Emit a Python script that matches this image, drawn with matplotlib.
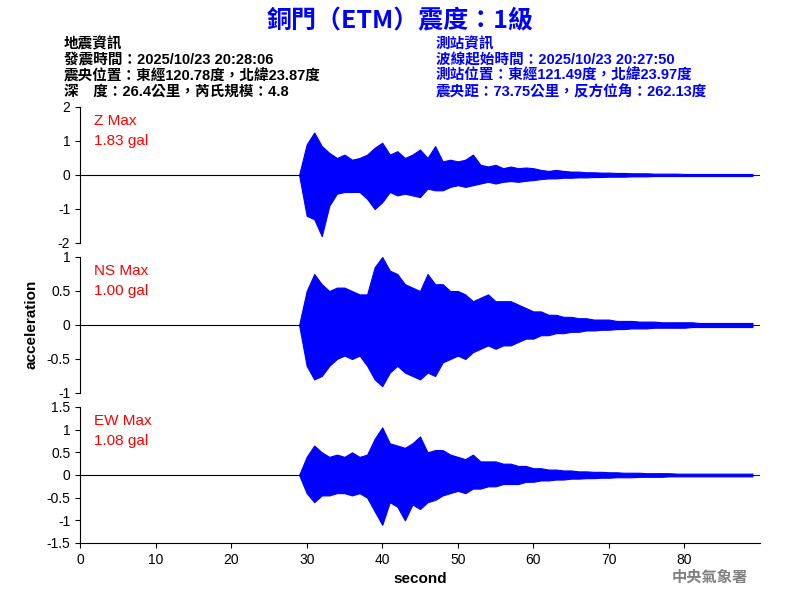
import matplotlib
matplotlib.use("Agg")
import matplotlib.pyplot as plt

plt.rcParams['font.family'] = ['Liberation Sans', 'Noto Sans CJK TC', 'DejaVu Sans']

# time (s) of envelope samples, 1 s apart, from the P arrival to end of record
t = list(range(29, 90))

z_up = [0, 0.9, 1.25, 0.85, 0.65, 0.5, 0.6, 0.45, 0.5, 0.6, 0.8, 0.95, 0.6, 0.7, 0.5, 0.6,
        0.75, 0.5, 0.85, 0.4, 0.45, 0.4, 0.45, 0.6, 0.3, 0.25, 0.3, 0.2, 0.25, 0.2, 0.22,
        0.2, 0.15, 0.12, 0.15, 0.12, 0.1, 0.1, 0.08, 0.08, 0.07, 0.07, 0.06, 0.06, 0.05, 0.05,
        0.05, 0.04, 0.04, 0.04, 0.04, 0.03, 0.03, 0.03, 0.03, 0.03, 0.03, 0.03, 0.03, 0.03, 0.03]
z_lo = [0, -1.2, -1.3, -1.8, -0.9, -0.55, -0.5, -0.5, -0.5, -0.7, -1.0, -0.8, -0.5, -0.6, -0.55,
        -0.6, -0.65, -0.4, -0.45, -0.45, -0.35, -0.3, -0.35, -0.3, -0.25, -0.2, -0.25, -0.2,
        -0.18, -0.2, -0.17, -0.15, -0.12, -0.1, -0.1, -0.08, -0.08, -0.07, -0.07, -0.06, -0.06,
        -0.05, -0.05, -0.05, -0.04, -0.04, -0.04, -0.03, -0.03, -0.03, -0.03, -0.03, -0.03,
        -0.03, -0.03, -0.03, -0.03, -0.03, -0.03, -0.03, -0.03]

ns_up = [0, 0.5, 0.75, 0.6, 0.5, 0.55, 0.55, 0.5, 0.45, 0.45, 0.85, 1.0, 0.8, 0.75, 0.6,
         0.55, 0.5, 0.75, 0.6, 0.6, 0.5, 0.5, 0.45, 0.35, 0.4, 0.45, 0.35, 0.35, 0.35, 0.3,
         0.25, 0.2, 0.2, 0.15, 0.15, 0.12, 0.12, 0.1, 0.1, 0.08, 0.08, 0.08, 0.06, 0.06, 0.06,
         0.05, 0.05, 0.05, 0.04, 0.04, 0.04, 0.04, 0.04, 0.03, 0.03, 0.03, 0.03, 0.03, 0.03, 0.03, 0.03]
ns_lo = [0, -0.6, -0.8, -0.75, -0.6, -0.5, -0.45, -0.5, -0.45, -0.6, -0.8, -0.9, -0.7, -0.6,
         -0.7, -0.75, -0.8, -0.7, -0.75, -0.55, -0.5, -0.45, -0.5, -0.4, -0.35, -0.3, -0.35,
         -0.3, -0.3, -0.25, -0.2, -0.2, -0.15, -0.15, -0.12, -0.12, -0.1, -0.1, -0.08, -0.08,
         -0.07, -0.07, -0.06, -0.06, -0.05, -0.05, -0.05, -0.04, -0.04, -0.04, -0.04, -0.04,
         -0.03, -0.03, -0.03, -0.03, -0.03, -0.03, -0.03, -0.03, -0.03]

ew_up = [0, 0.4, 0.65, 0.5, 0.4, 0.45, 0.4, 0.5, 0.4, 0.45, 0.8, 1.05, 0.7, 0.65, 0.6, 0.7,
         0.85, 0.5, 0.55, 0.55, 0.45, 0.4, 0.35, 0.45, 0.3, 0.3, 0.3, 0.25, 0.25, 0.2, 0.2,
         0.15, 0.15, 0.12, 0.12, 0.1, 0.1, 0.08, 0.08, 0.07, 0.07, 0.06, 0.06, 0.05, 0.05, 0.05,
         0.04, 0.04, 0.04, 0.04, 0.03, 0.03, 0.03, 0.03, 0.03, 0.03, 0.03, 0.03, 0.03, 0.03, 0.03]
ew_lo = [0, -0.4, -0.6, -0.45, -0.45, -0.4, -0.4, -0.45, -0.4, -0.5, -0.8, -1.1, -0.6, -0.7,
         -1.0, -0.65, -0.75, -0.6, -0.55, -0.45, -0.4, -0.35, -0.4, -0.3, -0.3, -0.25, -0.25,
         -0.2, -0.2, -0.2, -0.15, -0.15, -0.12, -0.12, -0.1, -0.1, -0.08, -0.08, -0.07, -0.07,
         -0.06, -0.06, -0.05, -0.05, -0.05, -0.04, -0.04, -0.04, -0.04, -0.03, -0.03, -0.03,
         -0.03, -0.03, -0.03, -0.03, -0.03, -0.03, -0.03, -0.03, -0.03]

channels = ["Z", "NS", "EW"]
peaks = [1.83, 1.00, 1.08]
ylims = [(-2, 2), (-1, 1), (-1.5, 1.5)]
yticks = [[-2, -1, 0, 1, 2], [-1, -0.5, 0, 0.5, 1], [-1.5, -1, -0.5, 0, 0.5, 1, 1.5]]
envelopes = [(z_up, z_lo), (ns_up, ns_lo), (ew_up, ew_lo)]

fig = plt.figure(figsize=(8, 6), dpi=100)
tops = [107, 257, 407]
for i, ch in enumerate(channels):
    top = 1 - tops[i] / 600
    ax = fig.add_axes([0.1, top - 136 / 600, 0.85, 136 / 600])
    up, lo = envelopes[i]
    ax.plot([0, 29.5], [0, 0], color="black", lw=0.8)
    ax.fill_between(t, lo, up, color="blue", lw=0.8, edgecolor="blue")
    ax.plot([t[-1], 90], [0, 0], color="blue", lw=0.8)
    ax.set_xlim(0, 90)
    ax.set_ylim(*ylims[i])
    ax.set_yticks(yticks[i])
    ax.set_yticklabels([f"{v:g}" for v in yticks[i]], fontsize=10)
    for s in ["top", "right"]:
        ax.spines[s].set_visible(False)
    if i < 2:
        ax.spines["bottom"].set_visible(False)
        ax.set_xticks([])
    else:
        ax.set_xticks(range(0, 90, 10))
        ax.tick_params(axis="x", labelsize=10)
        ax.set_xlabel("second", fontsize=11, fontweight="bold")
    ax.text(0.02, 0.95, f"{ch} Max\n{peaks[i]:.2f} gal", transform=ax.transAxes,
            color="red", fontsize=11, va="top", linespacing=1.6)

fig.text(0.03, 0.46, "acceleration", rotation=90, fontsize=11, fontweight="bold", va="center")

fig.text(0.5, 0.965, "銅門（ETM）震度：1級", color="blue", fontsize=18, fontweight="bold",
         ha="center", va="center", family=['Noto Sans CJK TC'])
left_lines = ["地震資訊", "發震時間：2025/10/23 20:28:06", "震央位置：東經120.78度，北緯23.87度",
              "深　度：26.4公里，芮氏規模：4.8"]
right_lines = ["測站資訊", "波線起始時間：2025/10/23 20:27:50", "測站位置：東經121.49度，北緯23.97度",
               "震央距：73.75公里，反方位角：262.13度"]
for k, (a, b) in enumerate(zip(left_lines, right_lines)):
    y = 1 - (44 + k * 16) / 600
    fig.text(0.08, y, a, fontsize=10.5, fontweight="bold", va="center")
    fig.text(0.545, y, b, fontsize=10.5, fontweight="bold", va="center", color="blue")

fig.text(0.935, 0.03, "中央氣象署", color="gray", fontsize=11, fontweight="bold", ha="right",
         family=['Noto Sans CJK TC'])

fig.savefig("out.png", dpi=100)
